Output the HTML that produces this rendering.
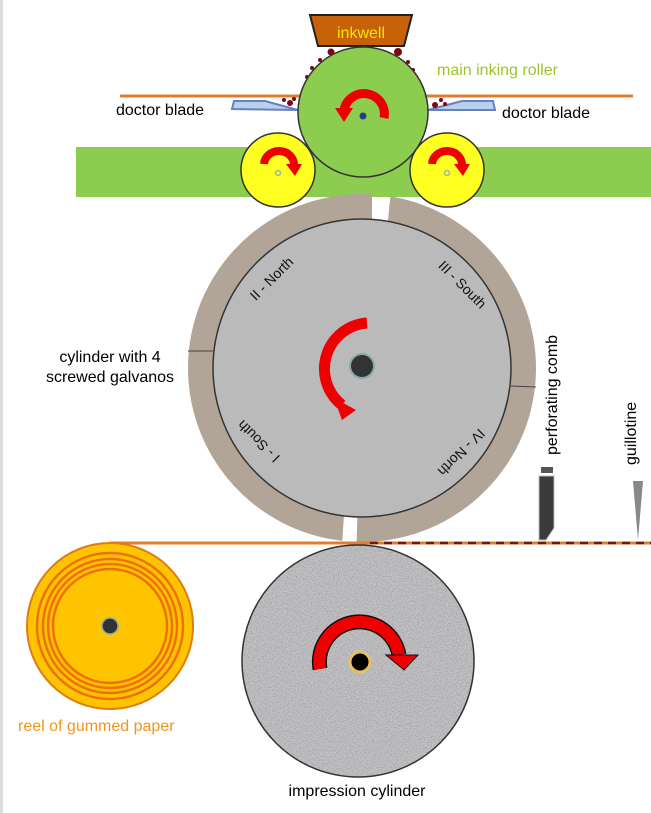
<!DOCTYPE html>
<html><head><meta charset="utf-8"><style>
html,body{margin:0;padding:0;background:#fff;}
svg{display:block;font-family:"Liberation Sans",sans-serif;}
</style></head><body>
<svg width="651" height="813" viewBox="0 0 651 813" xmlns="http://www.w3.org/2000/svg">
<defs>
<filter id="grain" x="0" y="0" width="100%" height="100%">
<feTurbulence type="fractalNoise" baseFrequency="0.9" numOctaves="2" seed="3"/>
<feColorMatrix type="matrix" values="0 0 0 0 0.42  0 0 0 0 0.37  0 0 0 0 0.33  -3 0 0 0 1.7"/>
<feComposite in2="SourceGraphic" operator="in"/>
</filter>
<filter id="grain2" x="0" y="0" width="100%" height="100%">
<feTurbulence type="fractalNoise" baseFrequency="0.8" numOctaves="2" seed="7"/>
<feColorMatrix type="matrix" values="0 0 0 0 0.35  0 0 0 0 0.35  0 0 0 0 0.37  -3 0 0 0 1.7"/>
<feComposite in2="SourceGraphic" operator="in"/>
</filter>
<mask id="gaps">
<rect width="651" height="813" fill="#fff"/>
<polygon points="372,180 392,180 386,240 372,240" fill="#000"/>
<polygon points="345,500 358,500 356,560 341,560" fill="#000"/>
</mask>
</defs>
<rect x="0" y="0" width="3" height="813" fill="#ddd"/>
<rect x="76" y="147" width="575" height="50" fill="#8ccd4f"/>
<line x1="120" y1="96" x2="633" y2="96" stroke="#e07c30" stroke-width="3"/>
<polygon points="234,101 265,101 298,110 232,109" fill="#b8d2ee" stroke="#6a7fc0" stroke-width="2"/>
<polygon points="428,110 462,101 493,101 495,110" fill="#b8d2ee" stroke="#6a7fc0" stroke-width="2"/>
<g fill="#7a0a10"><circle cx="290" cy="103" r="3"/><circle cx="284" cy="100" r="2"/><circle cx="294" cy="99" r="2"/><circle cx="435" cy="105" r="3"/><circle cx="441" cy="100" r="2"/><circle cx="445" cy="104" r="2"/>
<circle cx="331" cy="52" r="3.5"/><circle cx="398" cy="52" r="4"/><circle cx="320" cy="60" r="2"/><circle cx="312" cy="68" r="2"/><circle cx="307" cy="77" r="2"/><circle cx="408" cy="62" r="2"/><circle cx="413" cy="70" r="2"/></g>
<polygon points="310,15 412,15 404,46 318,46" fill="#c8620a" stroke="#222" stroke-width="2"/>
<text x="361" y="38" font-size="16" fill="#f6e600" text-anchor="middle">inkwell</text>
<circle cx="363" cy="112" r="65" fill="#8ccd4f" stroke="#333" stroke-width="1.5"/>
<path d="M384,118 A20,20 0 1 0 344,110" fill="none" stroke="#e00" stroke-width="9"/>
<polygon points="335,108 353,108 344,122" fill="#e00"/>
<circle cx="363" cy="116" r="3.5" fill="#2a3a8a"/>
<text x="437" y="75" font-size="16" fill="#9cc428">main inking roller</text>
<text x="116" y="115" font-size="16" fill="#000">doctor blade</text>
<text x="502" y="118" font-size="16" fill="#000">doctor blade</text>
<circle cx="278" cy="170" r="37" fill="#ffff22" stroke="#333" stroke-width="1.5"/>
<circle cx="447" cy="170" r="37" fill="#ffff22" stroke="#333" stroke-width="1.5"/>
<path d="M264,164 A15,14 0 0 1 294,166" fill="none" stroke="#e00" stroke-width="8"/>
<polygon points="286,164 302,164 295,176" fill="#e00"/>
<path d="M432,164 A15,14 0 0 1 462,166" fill="none" stroke="#e00" stroke-width="8"/>
<polygon points="454,164 470,164 463,176" fill="#e00"/>
<circle cx="278" cy="173" r="2.5" fill="none" stroke="#9b9" stroke-width="1.5"/>
<circle cx="447" cy="173" r="2.5" fill="none" stroke="#9b9" stroke-width="1.5"/>
<g mask="url(#gaps)">
<circle cx="362" cy="368" r="174" fill="#b3a597"/>
<circle cx="362" cy="368" r="174" fill="#b3a597" filter="url(#grain)"/>
</g>
<line x1="188" y1="351" x2="213" y2="351" stroke="#444" stroke-width="1"/>
<line x1="511" y1="386" x2="536" y2="387" stroke="#444" stroke-width="1"/>
<circle cx="362" cy="368" r="149" fill="#bababa" stroke="#333" stroke-width="1.5"/>
<g font-size="14" fill="#111" text-anchor="middle">
<text transform="translate(275,282) rotate(-45)">II - North</text>
<text transform="translate(459,288) rotate(45)">III - South</text>
<text transform="translate(262,438) rotate(-135)">I - South</text>
<text transform="translate(458,449) rotate(135)">IV - North</text>
</g>
<path d="M367,323 A46,46 0 0 0 342,405" fill="none" stroke="#e00" stroke-width="11"/>
<polygon points="334,398 356,410 342,420" fill="#e00"/>
<circle cx="362" cy="366" r="12" fill="#333" stroke="#8aa" stroke-width="2"/>
<text x="110" y="362" font-size="16" fill="#000" text-anchor="middle">cylinder with 4</text>
<text x="110" y="382" font-size="16" fill="#000" text-anchor="middle">screwed galvanos</text>
<text transform="translate(557,455) rotate(-90)" font-size="16" fill="#000">perforating comb</text>
<text transform="translate(636,465) rotate(-90)" font-size="16" fill="#000">guillotine</text>
<rect x="541" y="467" width="12" height="6" fill="#555"/>
<polygon points="539,476 554,476 554,528 546,540 539,540" fill="#3a3a3a" stroke="#bbb" stroke-width="1"/>
<polygon points="633,481 643,481 638,540" fill="#888"/>
<line x1="110" y1="543" x2="651" y2="543" stroke="#e07c30" stroke-width="3"/>
<line x1="370" y1="543" x2="651" y2="543" stroke="#6a1a10" stroke-width="2.5" stroke-dasharray="8,6"/>
<circle cx="110" cy="626" r="83" fill="#ffc400" stroke="#e07c10" stroke-width="2"/>
<circle cx="110" cy="626" r="73" fill="none" stroke="#f07010" stroke-width="2.5"/>
<circle cx="110" cy="626" r="67" fill="none" stroke="#f07010" stroke-width="2.5"/>
<circle cx="110" cy="626" r="62" fill="none" stroke="#f07010" stroke-width="2.5"/>
<circle cx="110" cy="626" r="57" fill="none" stroke="#f07010" stroke-width="2.5"/>
<circle cx="110" cy="626" r="8" fill="#333" stroke="#8aa" stroke-width="1.5"/>
<text x="18" y="731" font-size="16" fill="#f0961e">reel of gummed paper</text>
<circle cx="358" cy="661" r="116" fill="#c2c2c4"/>
<circle cx="358" cy="661" r="116" fill="#c2c2c4" filter="url(#grain2)"/>
<circle cx="358" cy="661" r="116" fill="none" stroke="#333" stroke-width="1.5"/>
<path d="M320,669 A36,36 0 0 1 399,655" fill="none" stroke="#111" stroke-width="15"/>
<path d="M320,669 A36,36 0 0 1 399,655" fill="none" stroke="#e00" stroke-width="12"/>
<polygon points="386,655 418,655 404,670" fill="#e00" stroke="#111" stroke-width="1"/>
<circle cx="360" cy="662" r="10" fill="#000" stroke="#e8c060" stroke-width="3"/>
<text x="357" y="796" font-size="16" fill="#000" text-anchor="middle">impression cylinder</text>
</svg>
</body></html>
